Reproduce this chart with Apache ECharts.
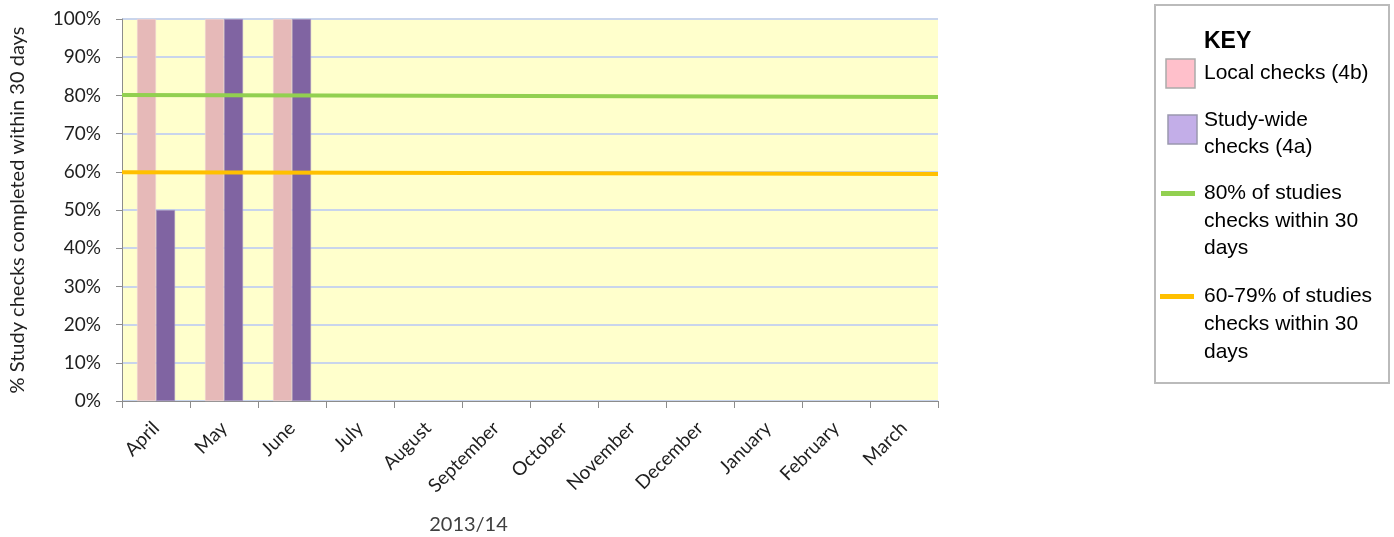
<!DOCTYPE html>
<html>
<head>
<meta charset="utf-8">
<script src="https://cdn.jsdelivr.net/npm/echarts@6/dist/echarts.min.js"></script>
<style>
  html, body { margin: 0; padding: 0; background: #fff; }
  #main { width: 1394px; height: 537px; }
</style>
</head>
<body>
<div id="main"></div>
<script>
var months = ['April', 'May', 'June', 'July', 'August', 'September', 'October',
    'November', 'December', 'January', 'February', 'March'];
var localChecks = [100, 100, 100, null, null, null, null, null, null, null, null, null];
var studyWide = [50, 100, 100, null, null, null, null, null, null, null, null, null];
// target lines, read at left and right edge of the plot (x in months 0..12)
var target80 = [[0, 80.1], [12, 79.6]];
var target60 = [[0, 59.9], [12, 59.4]];

var axisFont = 'Lato, "DejaVu Sans", sans-serif';
var keyFont = '"Liberation Sans", Arial, sans-serif';

var myChart = echarts.init(document.getElementById('main'), null, {renderer: 'canvas'});

var option = {
    backgroundColor: '#ffffff',
    animation: false,
    grid: {
        left: 122,
        right: 456,
        top: 19,
        bottom: 136,
        show: true,
        backgroundColor: '#FFFFCC',
        borderWidth: 0,
        outerBoundsMode: 'none'
    },
    xAxis: [{
        type: 'category',
        data: months,
        name: '2013/14',
        nameLocation: 'middle',
        nameGap: 114,
        nameTextStyle: {
            fontFamily: axisFont,
            fontSize: 20,
            color: '#404040',
            padding: [0, 123, 0, 0]
        },
        axisLine: {lineStyle: {color: '#8C8C8C', width: 1}},
        axisTick: {show: true, length: 7, lineStyle: {color: '#8C8C8C'}},
        axisLabel: {
            rotate: 45,
            margin: 24,
            fontFamily: axisFont,
            fontSize: 19,
            color: '#1F1F1F'
        },
        splitLine: {show: false}
    }, {
        type: 'value',
        min: 0,
        max: 12,
        show: false
    }],
    yAxis: {
        type: 'value',
        min: 0,
        max: 100,
        interval: 10,
        name: '% Study checks completed within 30 days',
        nameLocation: 'middle',
        nameGap: 94,
        nameTextStyle: {
            fontFamily: axisFont,
            fontSize: 20,
            color: '#1F1F1F'
        },
        axisLine: {show: true, lineStyle: {color: '#8C8C8C', width: 1}},
        axisTick: {show: true, length: 6, lineStyle: {color: '#8C8C8C'}},
        axisLabel: {
            margin: 21,
            fontFamily: axisFont,
            fontSize: 19,
            color: '#1F1F1F',
            formatter: function (v) { return v + '%'; }
        },
        splitLine: {show: true, lineStyle: {color: '#C9D5EC', width: 2}}
    },
    series: [{
        name: 'Local checks (4b)',
        type: 'bar',
        data: localChecks,
        barWidth: 19,
        barGap: '0%',
        itemStyle: {color: '#E6B9B8', borderColor: '#F3DCDB', borderWidth: 0.5}
    }, {
        name: 'Study-wide checks (4a)',
        type: 'bar',
        data: studyWide,
        barWidth: 19,
        barGap: '0%',
        itemStyle: {color: '#8064A2', borderColor: '#B3A2C7', borderWidth: 0.5}
    }, {
        name: '80% of studies checks within 30 days',
        type: 'line',
        xAxisIndex: 1,
        data: target80,
        symbol: 'none',
        lineStyle: {color: '#92D050', width: 4}
    }, {
        name: '60-79% of studies checks within 30 days',
        type: 'line',
        xAxisIndex: 1,
        data: target60,
        symbol: 'none',
        lineStyle: {color: '#FFC000', width: 4}
    }],
    graphic: [
        {type: 'rect', shape: {x: 1155, y: 5, width: 234, height: 378},
            style: {fill: '#fff', stroke: '#BBBBBB', lineWidth: 2}},
        {type: 'text', x: 1204, y: 42,
            style: {text: 'KEY', font: 'bold 23px ' + keyFont, fill: '#000', textVerticalAlign: 'middle'}},
        {type: 'rect', shape: {x: 1166, y: 59, width: 29, height: 29},
            style: {fill: '#FFC0CB', stroke: '#ABABAB', lineWidth: 1.5}},
        {type: 'text', x: 1204, y: 73,
            style: {text: 'Local checks (4b)', font: '21px ' + keyFont, fill: '#000', textVerticalAlign: 'middle'}},
        {type: 'rect', shape: {x: 1168, y: 115, width: 29, height: 29},
            style: {fill: '#C3AEE8', stroke: '#9A98AE', lineWidth: 1.5}},
        {type: 'text', x: 1204, y: 106.5,
            style: {text: 'Study-wide\nchecks (4a)', font: '21px ' + keyFont, lineHeight: 27, fill: '#000'}},
        {type: 'rect', shape: {x: 1161, y: 191, width: 34, height: 5},
            style: {fill: '#92D050'}},
        {type: 'text', x: 1204, y: 179.5,
            style: {text: '80% of studies\nchecks within 30\ndays', font: '21px ' + keyFont, lineHeight: 27.5, fill: '#000'}},
        {type: 'rect', shape: {x: 1160, y: 294, width: 34, height: 5},
            style: {fill: '#FFC000'}},
        {type: 'text', x: 1204, y: 282.5,
            style: {text: '60-79% of studies\nchecks within 30\ndays', font: '21px ' + keyFont, lineHeight: 28, fill: '#000'}}
    ]
};

myChart.setOption(option);
window.addEventListener('resize', myChart.resize);
</script>
</body>
</html>
